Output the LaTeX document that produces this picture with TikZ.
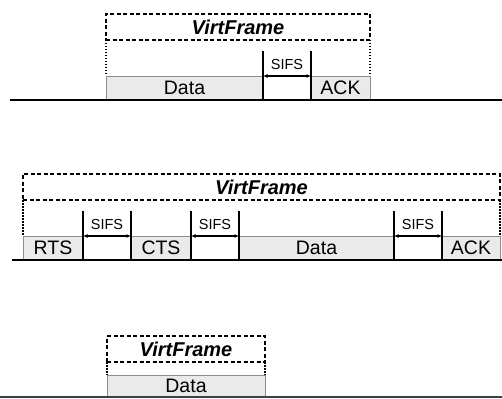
\documentclass[tikz,border=0pt]{standalone}
\usepackage{fontspec}
\setmainfont{Liberation Sans}
\usetikzlibrary{positioning,arrows.meta}
\definecolor{pktfill}{RGB}{234,234,234}
\definecolor{pktedge}{RGB}{140,140,140}

\begin{document}
\begin{tikzpicture}[x=1pt, y=-1pt,
  pkt/.style={rectangle, draw=pktedge, fill=pktfill, line width=0.9pt, inner sep=0pt, outer sep=0pt, minimum height=24pt, anchor=south west, font=\fontsize{19.5}{21}\selectfont},
  ifs/.style={rectangle, inner sep=0pt, outer sep=0pt, minimum height=49pt, minimum width=48pt, anchor=south west},
  virt/.style={rectangle, draw, line width=2pt, dash pattern=on 4pt off 2.5pt, inner sep=0pt, outer sep=0pt, minimum height=26pt, anchor=south west, font=\fontsize{20}{22}\selectfont\bfseries\itshape},
  vside/.style={dash pattern=on 1.5pt off 1.5pt, line width=1.3pt},
  ifsline/.style={line width=1.6pt},
  ifsarrow/.style={{Latex[length=4.5pt,width=4pt]}-{Latex[length=4.5pt,width=4pt]}, line width=1.1pt},
  ifslabel/.style={font=\fontsize{14.5}{16}\selectfont, inner sep=1pt},
  wire/.style={line width=2.6pt}
]
\useasboundingbox (0,0) rectangle (502,398);

% basic access
\node[pkt, minimum width=157pt] (data1) at (106,100) {Data};
\node[ifs] (ifs1) at (data1.south east) {};
\node[pkt, minimum width=59pt] (ack1) at (ifs1.south east) {ACK};
\node[virt, minimum width=264pt] (virt1) at (106,40) {VirtFrame};
\draw[vside] (virt1.south west) -- (data1.north west);
\draw[vside] (virt1.south east) -- (ack1.north east);
\draw[ifsline] (ifs1.south west) -- (ifs1.north west);
\draw[ifsline] (ifs1.south east) -- (ifs1.north east);
\draw[ifsarrow] (data1.north east) -- node[ifslabel, above=5pt] {SIFS} (ack1.north west);
\draw[wire] (10,100) -- (502,100);

% rts/cts access
\node[pkt, minimum width=60pt] (rts) at (23,260) {RTS};
\node[ifs] (ifs2) at (rts.south east) {};
\node[pkt, minimum width=60pt] (cts) at (ifs2.south east) {CTS};
\node[ifs] (ifs3) at (cts.south east) {};
\node[pkt, minimum width=155pt] (data2) at (ifs3.south east) {Data};
\node[ifs] (ifs4) at (data2.south east) {};
\node[pkt, minimum width=58pt] (ack2) at (ifs4.south east) {ACK};
\node[virt, minimum width=477pt] (virt2) at (23,200) {VirtFrame};
\draw[vside] (virt2.south west) -- (rts.north west);
\draw[vside] (virt2.south east) -- (ack2.north east);
\foreach \g in {ifs2,ifs3,ifs4} {
  \draw[ifsline] (\g.south west) -- (\g.north west);
  \draw[ifsline] (\g.south east) -- (\g.north east);
}
\draw[ifsarrow] (rts.north east) -- node[ifslabel, above=5pt] {SIFS} (cts.north west);
\draw[ifsarrow] (cts.north east) -- node[ifslabel, above=5pt] {SIFS} (data2.north west);
\draw[ifsarrow] (data2.north east) -- node[ifslabel, above=5pt] {SIFS} (ack2.north west);
\draw[wire] (12,260) -- (502,260);

% broadcast
\node[pkt, minimum width=158pt, minimum height=22pt] (data3) at (107,397) {Data};
\node[virt, minimum width=158pt] (virt3) at (107,362) {VirtFrame};
\draw[vside] (virt3.south west) -- (data3.north west);
\draw[vside] (virt3.south east) -- (data3.north east);
\draw[wire, black!75] (0,397) -- (502,397);
\end{tikzpicture}
\end{document}
